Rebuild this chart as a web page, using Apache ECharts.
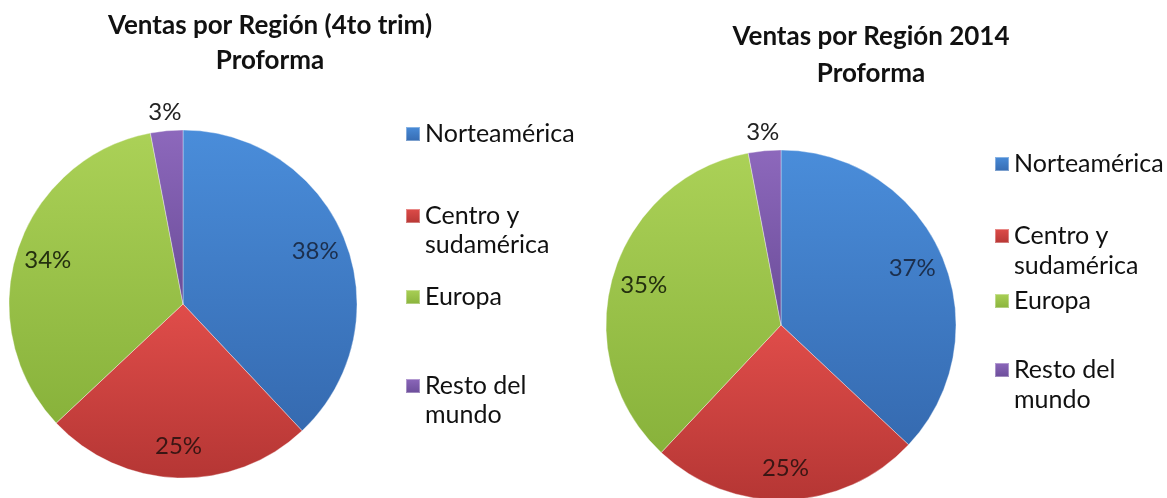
<!DOCTYPE html>
<html>
<head>
<meta charset="utf-8">
<script src="https://cdn.jsdelivr.net/npm/echarts@6/dist/echarts.min.js"></script>
<style>
html,body{margin:0;padding:0;background:#fff;}
#chart{width:1167px;height:498px;}
</style>
</head>
<body>
<div id="chart"></div>
<script>
// ---- data ----
const categories = ['Norteamérica', 'Centro y sudamérica', 'Europa', 'Resto del mundo'];
const legendLabels = ['Norteamérica', 'Centro y\nsudamérica', 'Europa', 'Resto del\nmundo'];
const values4toTrim = [38, 25, 34, 3];
const values2014 = [37, 25, 35, 3];
const titleTexts = ['Ventas por Región (4to trim)\nProforma', 'Ventas por Región 2014\nProforma'];

// ---- styles ----
const FONT = 'Lato';
const sliceTop = ['#4a8dda', '#e04d4a', '#abd157', '#8d68bc'];
const sliceBottom = ['#356ab0', '#b53634', '#88b23b', '#6a4c98'];
const labelColors = ['#1c2f4d', '#3a1614', '#24300f', '#222'];

function grad(i) {
  return new echarts.graphic.LinearGradient(0, 0, 0, 1, [
    { offset: 0, color: sliceTop[i] },
    { offset: 1, color: sliceBottom[i] }
  ]);
}

function mainPie(values, center, r) {
  return {
    type: 'pie', center: center, radius: [0, r], startAngle: 90, clockwise: true,
    label: { show: false }, labelLine: { show: false }, silent: true,
    itemStyle: { borderColor: 'rgba(255,255,255,0.35)', borderWidth: 1 },
    data: values.map((v, i) => ({ name: categories[i], value: v, itemStyle: { color: grad(i) } }))
  };
}
// label layer: big slices labelled inside at ~0.8r
function innerLabels(values, center, r) {
  return {
    type: 'pie', center: center, radius: [r * 0.6, r], startAngle: 90, clockwise: true,
    silent: true, labelLine: { show: false },
    itemStyle: { color: 'rgba(0,0,0,0)' },
    data: values.map((v, i) => ({
      name: categories[i], value: v,
      label: { show: v >= 5, position: 'inside', color: labelColors[i], fontSize: 24, fontFamily: FONT, formatter: '{c}%' }
    }))
  };
}
// label layer: small slices labelled just outside
function outerLabels(values, center, r) {
  return {
    type: 'pie', center: center, radius: [r, r * 1.18], startAngle: 90, clockwise: true,
    silent: true, labelLine: { show: false },
    itemStyle: { color: 'rgba(0,0,0,0)' },
    data: values.map((v, i) => ({
      name: categories[i], value: v,
      label: { show: v < 5, position: 'inside', color: '#222', fontSize: 24, fontFamily: FONT, formatter: '{c}%' }
    }))
  };
}

function legends(left, centers, lh) {
  return categories.map((name, i) => {
    const two = legendLabels[i].indexOf('\n') >= 0;
    return {
      left: left, top: centers[i] - (two ? 1.5 * lh : lh / 2),
      orient: 'vertical', padding: 0, itemGap: 0,
      itemWidth: 14, itemHeight: 14, icon: 'rect', selectedMode: false,
      data: [name],
      // leading empty line keeps the icon level with the first text line
      formatter: () => (two ? '\n' : '') + legendLabels[i],
      textStyle: { fontFamily: FONT, fontSize: 25, color: '#111', lineHeight: lh }
    };
  });
}

const chart = echarts.init(document.getElementById('chart'));
const c1 = [183, 304], r1 = 174;
const c2 = [781, 325], r2 = 175;
chart.setOption({
  animation: false,
  title: [
    { text: titleTexts[0], left: 265, top: 3, textAlign: 'center',
      textStyle: { fontFamily: FONT, fontWeight: 'bold', fontSize: 26, lineHeight: 35, color: '#111' } },
    { text: titleTexts[1], left: 866, top: 13, textAlign: 'center',
      textStyle: { fontFamily: FONT, fontWeight: 'bold', fontSize: 26, lineHeight: 37, color: '#111' } }
  ],
  legend: [].concat(legends(405, [134, 216, 297, 386], 29), legends(994, [164, 236, 301, 370], 30)),
  series: [
    mainPie(values4toTrim, c1, r1),
    mainPie(values2014, c2, r2),
    innerLabels(values4toTrim, c1, r1),
    innerLabels(values2014, c2, r2),
    outerLabels(values4toTrim, c1, r1),
    outerLabels(values2014, c2, r2)
  ]
});
</script>
</body>
</html>
